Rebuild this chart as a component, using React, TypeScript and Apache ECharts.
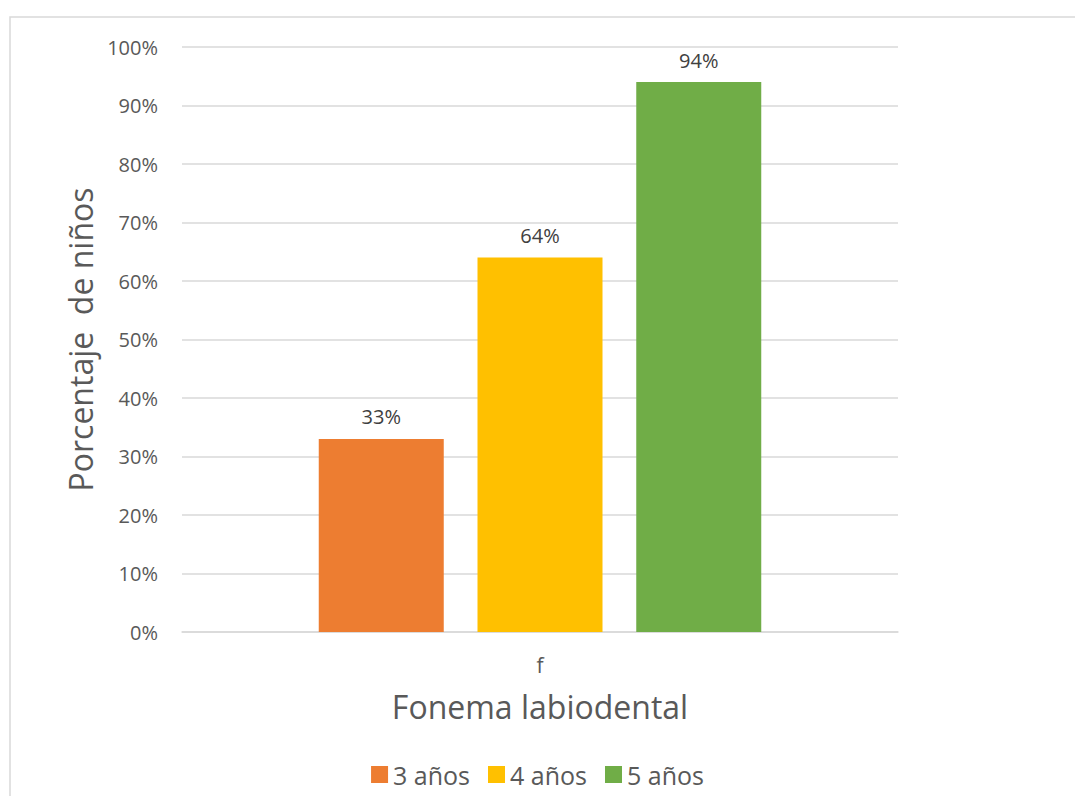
import React, { useEffect, useRef } from "react";
import * as echarts from "echarts";

const categories = ["f"];
const seriesNames = ["3 años", "4 años", "5 años"];
const values3 = [33];
const values4 = [64];
const values5 = [94];
const colors = ["#ED7D31", "#FFC000", "#70AD47"];
const yTicks = { min: 0, max: 100, interval: 10 };

export default function App() {
  const ref = useRef<HTMLDivElement>(null);
  useEffect(() => {
    if (!ref.current) return;
    const chart = echarts.init(ref.current, null, { renderer: "svg" });
    const font = "'Open Sans', 'Noto Sans', sans-serif";
    const dataSets = [values3, values4, values5];
    chart.setOption({
      animation: false,
      textStyle: { fontFamily: font },
      graphic: [
        {
          type: "polyline",
          shape: { points: [[10, 820], [10, 17], [1100, 17]] },
          style: { stroke: "#d9d9d9", lineWidth: 1.5, fill: "none" },
          silent: true,
        },
      ],
      grid: { left: 182, right: 177, top: 47, bottom: 164 },
      legend: {
        bottom: 4,
        left: "center",
        itemWidth: 17,
        itemHeight: 17,
        itemGap: 18,
        icon: "rect",
        textStyle: { fontSize: 25, color: "#595959", fontFamily: font },
        data: seriesNames,
      },
      xAxis: {
        type: "category",
        data: categories,
        axisLine: { lineStyle: { color: "#d9d9d9", width: 1.5 } },
        axisTick: { show: false },
        axisLabel: { fontSize: 21, color: "#595959", margin: 22 },
        name: "Fonema labiodental",
        nameLocation: "middle",
        nameGap: 58,
        nameTextStyle: { fontSize: 32, color: "#595959" },
      },
      yAxis: {
        type: "value",
        min: yTicks.min,
        max: yTicks.max,
        interval: yTicks.interval,
        axisLine: { show: false },
        axisTick: { show: false },
        axisLabel: { fontSize: 20, color: "#595959", margin: 24, formatter: "{value}%" },
        splitLine: { lineStyle: { color: "#d9d9d9", width: 1.5 } },
        name: "Porcentaje  de niños",
        nameLocation: "middle",
        nameRotate: 90,
        nameGap: 86,
        nameTextStyle: { fontSize: 32, color: "#595959" },
      },
      series: seriesNames.map((n, i) => ({
        name: n,
        type: "bar",
        data: dataSets[i],
        barWidth: 125,
        barGap: "27%",
        itemStyle: { color: colors[i] },
        label: {
          show: true,
          position: "top",
          distance: 12,
          formatter: "{c}%",
          fontSize: 20,
          color: "#404040",
        },
      })),
    });
    return () => chart.dispose();
  }, []);
  return (
    <div style={{ position: "fixed", left: 0, top: 0, width: 1075, height: 796, background: "#fff" }}>
      <div ref={ref} style={{ width: 1075, height: 796 }} />
    </div>
  );
}
